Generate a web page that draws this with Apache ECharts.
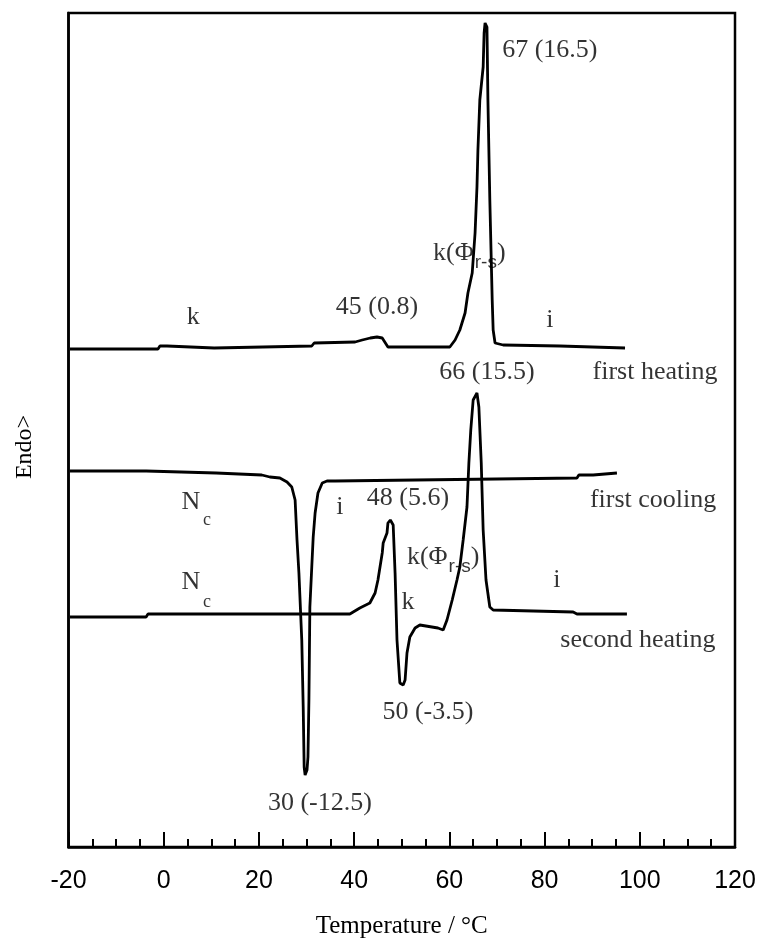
<!DOCTYPE html>
<html>
<head>
<meta charset="utf-8">
<script src="https://cdn.jsdelivr.net/npm/echarts@6/dist/echarts.min.js"></script>
<style>
  html, body { margin: 0; padding: 0; background: #fff; }
  #chart { width: 760px; height: 946px; }
</style>
</head>
<body>
<div id="chart"></div>
<script>
// DSC traces: [temperature °C, heat flow (arbitrary units, endo up)]
const firstHeating = [
  [-19.7, 49.8], [-1.2, 49.8], [-0.8, 50.1], [0.7, 50.1], [1.1, 49.9], [10.6, 49.9],
  [11.0, 50.1], [31.1, 50.1], [31.6, 50.4], [40.2, 50.5], [41.7, 50.7], [43.4, 50.9],
  [44.8, 51.0], [45.9, 50.9], [47.1, 50.0], [52.4, 50.0], [60.1, 50.0], [61.2, 50.7],
  [62.2, 51.7], [63.3, 53.4], [63.9, 55.4], [64.8, 57.4], [65.4, 61.4], [65.8, 66.0],
  [66.0, 69.7], [66.4, 74.7], [67.1, 78.0], [67.3, 81.4], [67.5, 82.4], [67.9, 82.0],
  [68.1, 74.7], [68.5, 64.7], [69.0, 54.7], [69.2, 51.7], [69.6, 50.4], [71.3, 50.2],
  [83.2, 50.1], [96.9, 49.9]
];

const firstCooling = [
  [-19.7, 37.6], [-3.7, 37.6], [-3.3, 37.4], [11.0, 37.4], [11.4, 37.3], [20.6, 37.2],
  [22.3, 37.0], [24.4, 36.9], [25.9, 36.5], [26.9, 36.0], [27.6, 34.7], [28.0, 30.7],
  [28.4, 27.4], [29.0, 20.7], [29.3, 14.0], [29.5, 8.0], [29.7, 7.2], [30.1, 7.7],
  [30.3, 9.0], [30.5, 14.7], [30.7, 24.0], [31.1, 28.0], [31.4, 31.0], [31.8, 33.4],
  [32.4, 35.4], [33.3, 36.4], [34.3, 36.6], [36.0, 36.6], [86.8, 36.9], [87.2, 37.2],
  [90.2, 37.2], [90.6, 37.4], [95.2, 37.4]
];

const secondHeating = [
  [-19.7, 23.0], [-3.7, 23.0], [-3.3, 23.3], [39.1, 23.3], [41.2, 23.9], [43.3, 24.4],
  [44.4, 25.4], [45.0, 26.7], [45.9, 29.4], [46.1, 30.4], [46.9, 31.4], [47.1, 32.4],
  [47.6, 32.7], [48.0, 32.7], [48.2, 32.2], [48.6, 27.4], [49.0, 20.7], [49.6, 16.4],
  [50.3, 16.2], [50.7, 16.7], [51.1, 19.4], [51.7, 21.0], [52.8, 21.9], [53.8, 22.2],
  [57.6, 21.9], [58.7, 21.7], [59.5, 22.7], [60.6, 24.7], [61.6, 26.7], [62.2, 28.0],
  [62.9, 30.7], [63.7, 34.0], [64.1, 38.4], [64.5, 41.7], [65.0, 44.7], [65.8, 45.4],
  [66.2, 44.0], [66.7, 38.4], [67.1, 31.7], [67.7, 26.7], [68.5, 24.0], [69.2, 23.7],
  [86.0, 23.5], [86.8, 23.3], [97.3, 23.3]
];

// annotations: [temperature, heat flow, text]
const notes = [
  [81.1, 79.7, '67 (16.5)'],
  [64.2, 59.4, '{t|k(Φ}{sub|r-s}{t|)}'],
  [44.8, 54.0, '45 (0.8)'],
  [6.2, 53.0, 'k'],
  [81.1, 52.7, 'i'],
  [67.9, 47.5, '66 (15.5)'],
  [103.2, 47.5, 'first heating'],
  [5.7, 34.5, 'N'],
  [9.1, 32.7, '{c|c}'],
  [37.0, 34.0, 'i'],
  [51.3, 34.9, '48 (5.6)'],
  [102.8, 34.7, 'first cooling'],
  [58.7, 29.0, '{t|k(Φ}{sub|r-s}{t|)}'],
  [5.7, 26.5, 'N'],
  [9.1, 24.5, '{c|c}'],
  [51.3, 24.5, 'k'],
  [82.6, 26.7, 'i'],
  [99.6, 20.7, 'second heating'],
  [55.5, 13.5, '50 (-3.5)'],
  [32.8, 4.4, '30 (-12.5)']
];

const serif = '"Liberation Serif", "Times New Roman", serif';
const sans = '"Liberation Sans", Arial, sans-serif';

const trace = (name, data) => ({
  name,
  type: 'line',
  data,
  showSymbol: false,
  symbol: 'none',
  lineStyle: { color: '#000', width: 2.8 },
  z: 3
});

const chart = echarts.init(document.getElementById('chart'), null, { renderer: 'canvas' });

chart.setOption({
  animation: false,
  backgroundColor: '#fff',
  grid: {
    left: 68.5, right: 25, top: 13, bottom: 99,
    outerBoundsMode: 'none',
    containLabel: false,
    show: true, borderColor: '#000', borderWidth: 2.5
  },
  xAxis: {
    type: 'value',
    min: -20, max: 120, interval: 20,
    name: 'Temperature / °C',
    nameLocation: 'middle',
    nameGap: 67,
    nameTextStyle: { fontFamily: serif, fontSize: 25, color: '#000' },
    axisLine: { onZero: false, lineStyle: { color: '#000', width: 2.5 } },
    axisTick: { inside: true, length: 15, lineStyle: { color: '#000', width: 2 } },
    minorTick: { show: true, splitNumber: 4, length: 8, lineStyle: { color: '#000', width: 2 } },
    axisLabel: { margin: 22, fontFamily: sans, fontSize: 25, color: '#000' },
    splitLine: { show: false }
  },
  yAxis: {
    type: 'value',
    min: 0, max: 83.4,
    name: 'Endo>',
    nameLocation: 'middle',
    nameGap: 32,
    nameTextStyle: { fontFamily: serif, fontSize: 24, color: '#000', padding: [0, 34, 0, 0] },
    axisLine: { onZero: false, lineStyle: { color: '#000', width: 2.5 } },
    axisTick: { show: false },
    axisLabel: { show: false },
    splitLine: { show: false }
  },
  series: [
    trace('first heating', firstHeating),
    trace('first cooling', firstCooling),
    trace('second heating', secondHeating),
    {
      type: 'scatter',
      data: notes,
      symbolSize: 0,
      silent: true,
      z: 4,
      label: {
        show: true,
        position: 'inside',
        formatter: p => p.data[2],
        fontFamily: serif,
        fontSize: 26,
        color: '#000',
        textBorderWidth: 0,
        rich: {
          t: { fontFamily: serif, fontSize: 26, color: '#000', textBorderWidth: 0 },
          sub: { fontFamily: sans, fontSize: 19, color: '#000', textBorderWidth: 0, padding: [20, 0, 0, 1] },
          c: { fontFamily: serif, fontSize: 18, color: '#000', textBorderWidth: 0 }
        }
      }
    }
  ]
});
</script>
</body>
</html>
